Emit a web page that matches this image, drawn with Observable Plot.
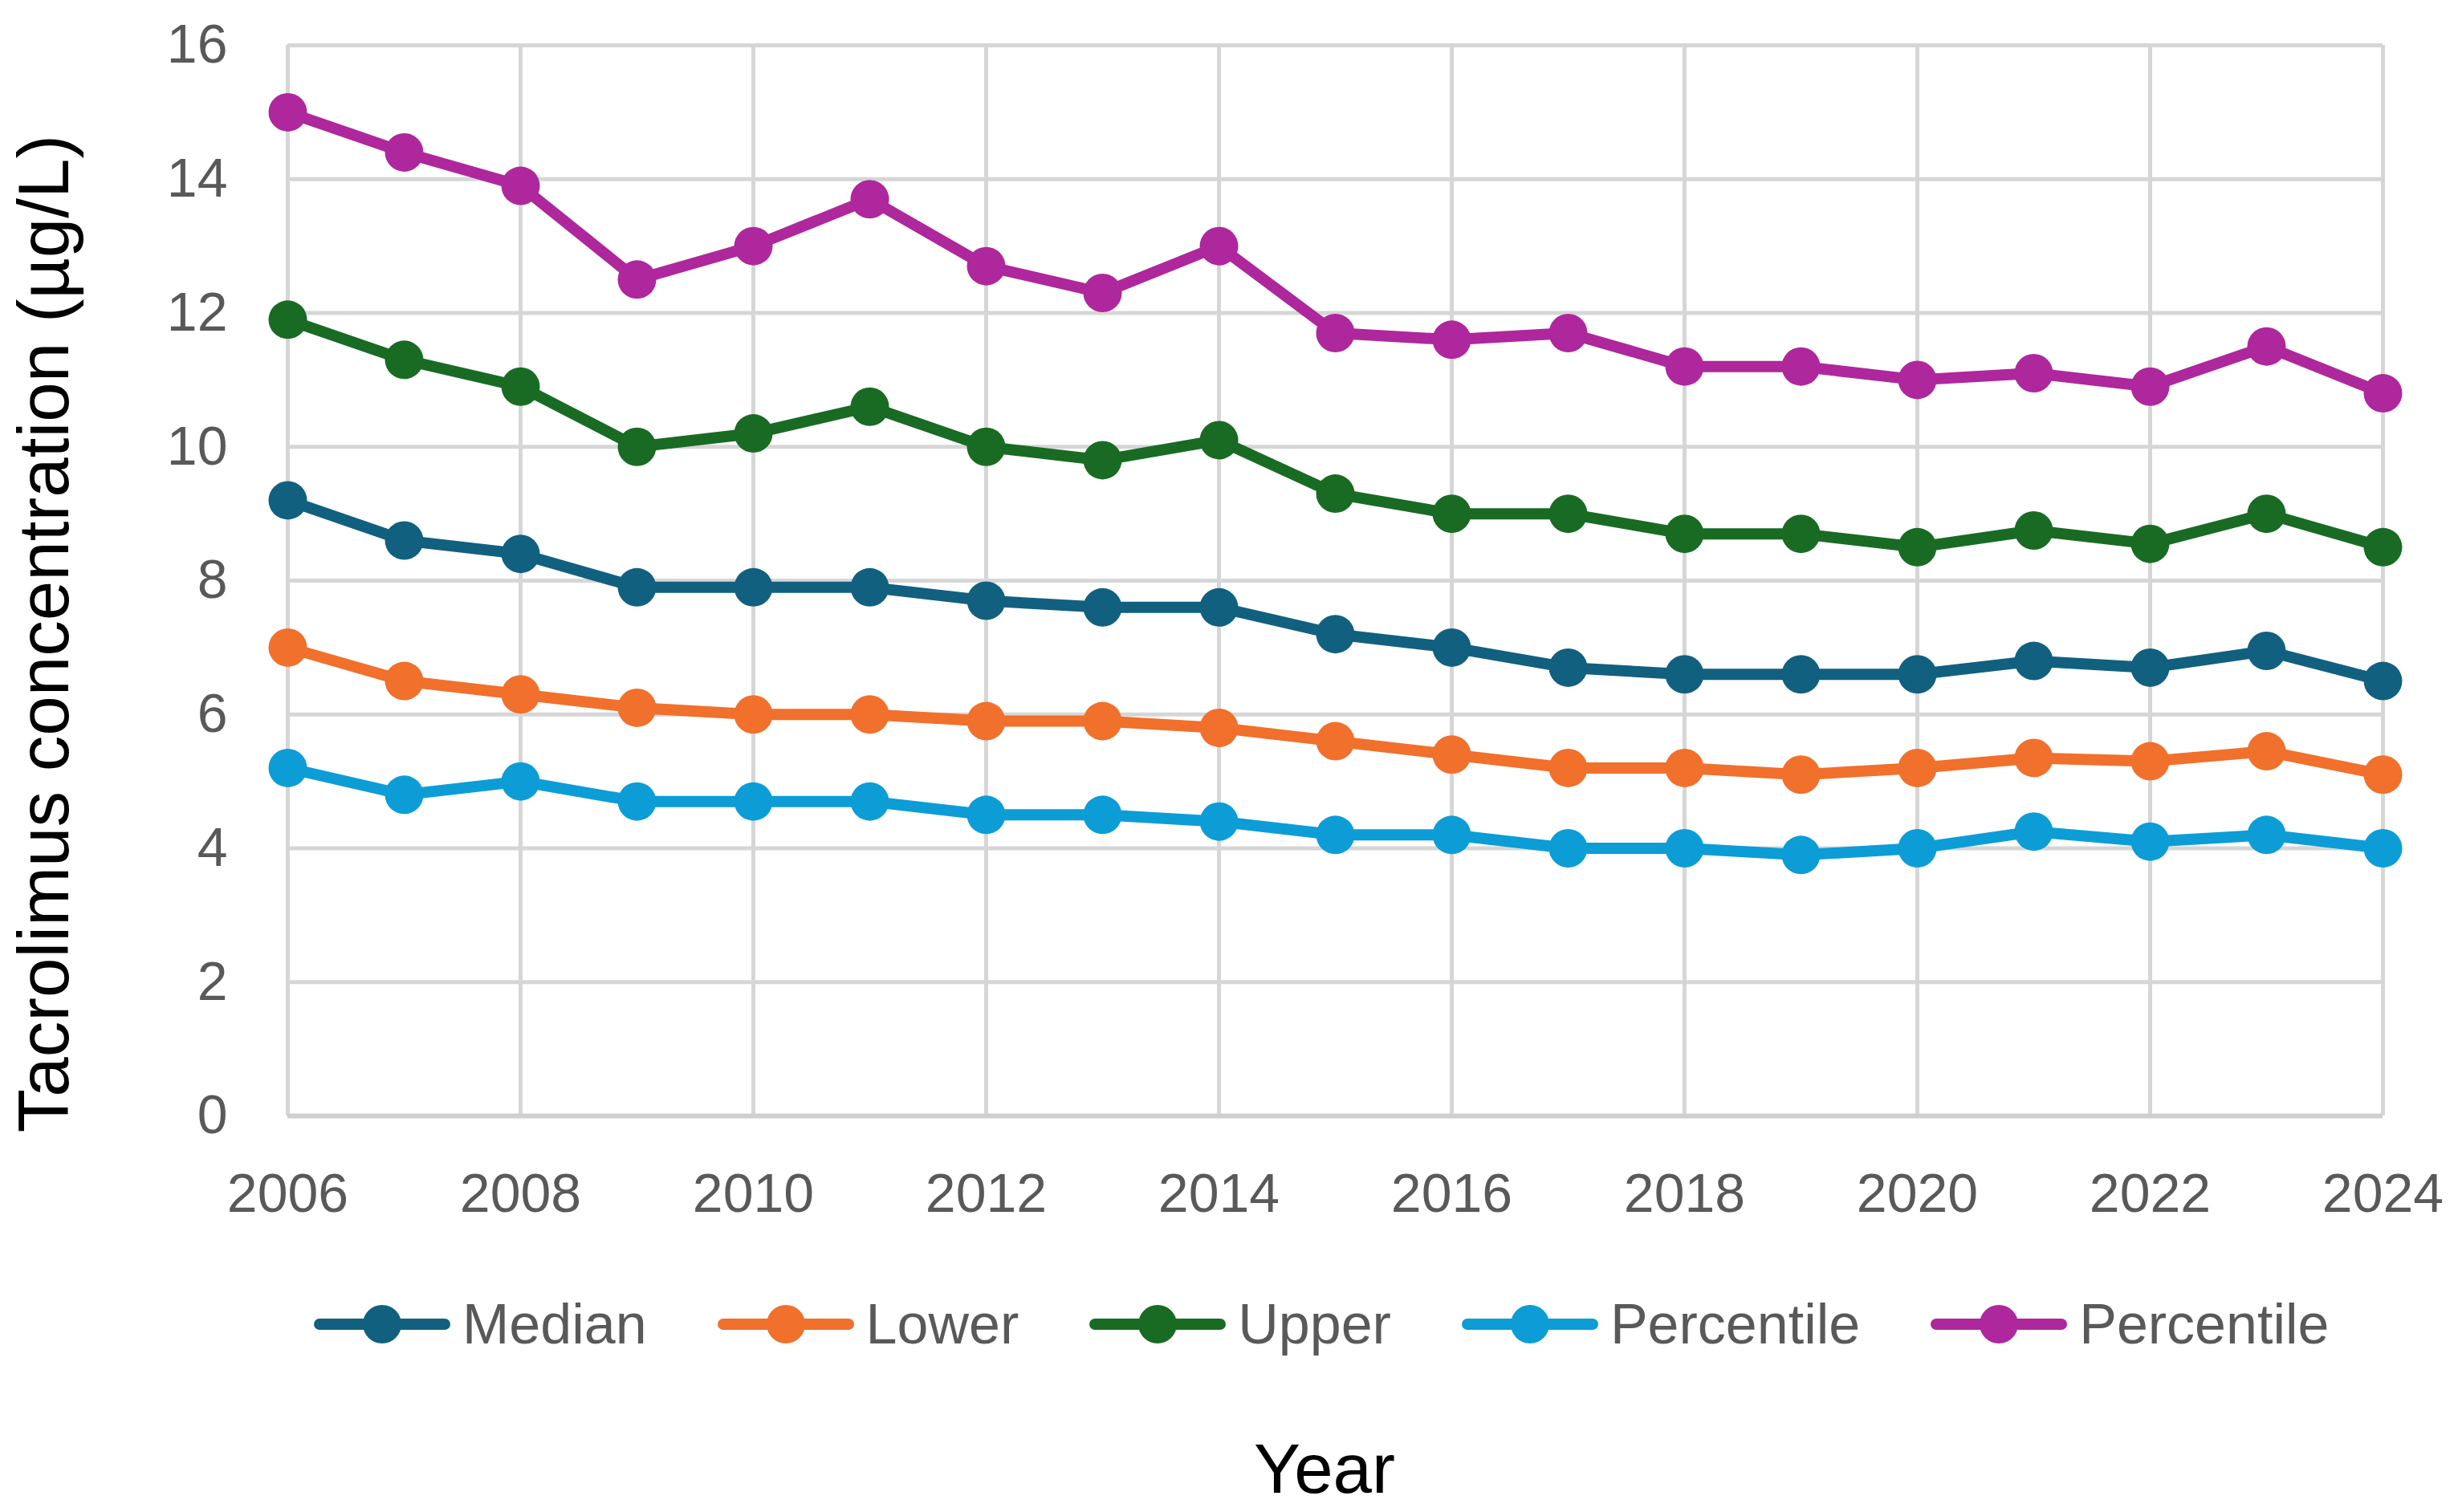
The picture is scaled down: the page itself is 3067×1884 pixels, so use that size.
<!DOCTYPE html>
<html>
<head>
<meta charset="utf-8">
<script src="https://cdn.jsdelivr.net/npm/d3@7"></script>
<script src="https://cdn.jsdelivr.net/npm/@observablehq/plot@0.6"></script>
<style>
  body { margin: 0; background: #fff; }
  #chart { position: relative; width: 3067px; height: 1884px; font-family: "Liberation Sans", Arial, sans-serif; }
  #chart svg.plot { position: absolute; left: 0; top: 0; }
  #legend { position: absolute; left: 391px; top: 1615px; height: 70px; display: flex; align-items: center; color: #595959; font-size: 70px; }
  .item { display: flex; align-items: center; margin-right: 88px; }
  .item svg { margin-right: 15px; }
  #xtitle { position: absolute; left: 1150px; width: 1000px; top: 1780px; text-align: center; font-size: 87px; color: #000; }
</style>
</head>
<body>
<div id="chart">
  <div id="legend"></div>
  <div id="xtitle">Year</div>
</div>
<script>
const years = [2006, 2007, 2008, 2009, 2010, 2011, 2012, 2013, 2014, 2015, 2016, 2017, 2018, 2019, 2020, 2021, 2022, 2023, 2024];
const median = [9.2, 8.6, 8.4, 7.9, 7.9, 7.9, 7.7, 7.6, 7.6, 7.2, 7.0, 6.7, 6.6, 6.6, 6.6, 6.8, 6.7, 6.95, 6.5];
const lower  = [7.0, 6.5, 6.3, 6.1, 6.0, 6.0, 5.9, 5.9, 5.8, 5.6, 5.4, 5.2, 5.2, 5.1, 5.2, 5.35, 5.3, 5.45, 5.1];
const upper  = [11.9, 11.3, 10.9, 10.0, 10.2, 10.6, 10.0, 9.8, 10.1, 9.3, 9.0, 9.0, 8.7, 8.7, 8.5, 8.75, 8.55, 9.0, 8.5];
const p5     = [5.2, 4.8, 5.0, 4.7, 4.7, 4.7, 4.5, 4.5, 4.4, 4.2, 4.2, 4.0, 4.0, 3.9, 4.0, 4.25, 4.1, 4.2, 4.0];
const p95    = [15.0, 14.4, 13.9, 12.5, 13.0, 13.7, 12.7, 12.3, 13.0, 11.7, 11.6, 11.7, 11.2, 11.2, 11.0, 11.1, 10.9, 11.5, 10.8];

const seriesKeys   = ["Median", "Lower", "Upper", "Percentile 5", "Percentile 95"];
const seriesLabels = ["Median", "Lower", "Upper", "Percentile", "Percentile"];
const seriesValues = [median, lower, upper, p5, p95];
const seriesColors = ["#12607F", "#F0702C", "#196B24", "#0C9DD6", "#AE279C"];

const xTicks = [2006, 2008, 2010, 2012, 2014, 2016, 2018, 2020, 2022, 2024];
const yTicks = [0, 2, 4, 6, 8, 10, 12, 14, 16];
const yTitle = "Tacrolimus concentration (µg/L)";

const data = seriesKeys.flatMap((k, s) => years.map((yr, i) => ({year: yr, value: seriesValues[s][i], key: k})));

const plot = Plot.plot({
  width: 3067,
  height: 1560,
  marginLeft: 358,
  marginRight: 99,
  marginTop: 56,
  marginBottom: 170,
  style: {fontFamily: '"Liberation Sans", Arial, sans-serif', fontSize: "68px", color: "#595959", background: "transparent", overflow: "visible"},
  x: {domain: [2006, 2024], label: null},
  y: {domain: [0, 16], label: null},
  color: {domain: seriesKeys, range: seriesColors},
  marks: [
    Plot.gridY(yTicks, {stroke: "#d6d6d6", strokeWidth: 5, strokeOpacity: 1}),
    Plot.gridX(xTicks, {stroke: "#d6d6d6", strokeWidth: 5, strokeOpacity: 1}),
    Plot.ruleY([0], {stroke: "#cfcfcf", strokeWidth: 6}),
    Plot.line(data, {x: "year", y: "value", z: "key", stroke: "key", strokeWidth: 14, strokeLinejoin: "round"}),
    Plot.dot(data, {x: "year", y: "value", fill: "key", r: 24}),
    Plot.axisX({ticks: xTicks, tickSize: 0, tickPadding: 71, tickFormat: d => String(d), label: null}),
    Plot.axisY({ticks: yTicks, tickSize: 0, tickPadding: 75, label: null}),
    Plot.text([yTitle], {frameAnchor: "left", textAnchor: "middle", dx: -302, dy: 66, rotate: -90, fontSize: 89, fill: "#000"})
  ]
});
plot.classList.add("plot");
document.getElementById("chart").prepend(plot);

const legend = document.getElementById("legend");
seriesLabels.forEach((lab, i) => {
  const item = document.createElement("div");
  item.className = "item";
  item.innerHTML = `<svg width="170" height="56" viewBox="0 0 170 56"><line x1="7" y1="28" x2="163" y2="28" stroke="${seriesColors[i]}" stroke-width="14" stroke-linecap="round"/><circle cx="85" cy="28" r="24" fill="${seriesColors[i]}"/></svg><span>${lab}</span>`;
  legend.appendChild(item);
});
</script>
</body>
</html>
